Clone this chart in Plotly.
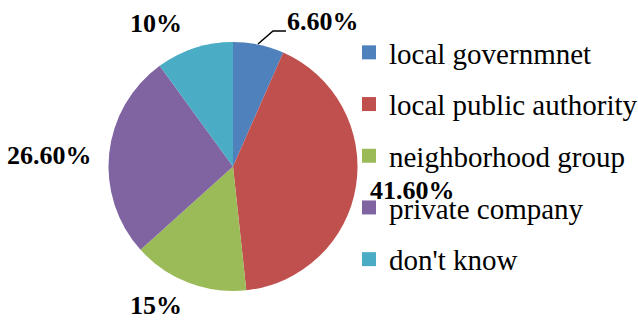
import plotly.graph_objects as go

categories = ["local governmnet", "local public authority", "neighborhood group",
              "private company", "don't know"]
values = [6.6, 41.6, 15, 26.6, 10]
value_labels = ["6.60%", "41.60%", "15%", "26.60%", "10%"]
colors = ["#4F81BD", "#C0504D", "#9BBB59", "#8064A2", "#4BACC6"]

W, H = 638, 320
cx, cy, r = 233, 166.5, 124.5
SERIF = "Liberation Serif, Times New Roman, serif"

fig = go.Figure()
fig.add_trace(go.Pie(
    labels=categories, values=values, sort=False, direction="clockwise",
    rotation=0, textinfo="none", hoverinfo="label+percent",
    marker=dict(colors=colors, line=dict(width=0)),
    showlegend=False,
    domain=dict(x=[(cx - r) / W, (cx + r) / W], y=[(H - cy - r) / H, (H - cy + r) / H]),
))

# legend entries (dummy traces so each row can be spaced like the original)
for i, (c, col) in enumerate(zip(categories, colors)):
    fig.add_trace(go.Scatter(
        x=[None], y=[None], mode="markers", name=c,
        marker=dict(symbol="square", size=14, color=col),
        legendgroup=f"g{i}", showlegend=True, hoverinfo="skip",
    ))

# data labels (paper coords for each label centre)
label_pos = [(323, 22), (412, 190), (156, 305), (49, 155), (156, 24)]
for txt, (px, py) in zip(value_labels, label_pos):
    fig.add_annotation(x=px / W, y=1 - py / H, xref="paper", yref="paper",
                       text=f"<b>{txt}</b>", showarrow=False,
                       xanchor="center", yanchor="middle",
                       font=dict(family=SERIF, size=26, color="black"))

# leader line for the small slice
fig.add_shape(type="path", xref="paper", yref="paper",
              path=f"M {258/W} {1-44/H} L {273/W} {1-31/H} L {286/W} {1-31/H}",
              line=dict(color="black", width=1.5))

fig.update_layout(
    width=W, height=H, margin=dict(l=0, r=0, t=0, b=0, autoexpand=False),
    paper_bgcolor="white", plot_bgcolor="white",
    xaxis=dict(visible=False), yaxis=dict(visible=False),
    font=dict(family=SERIF, color="black"),
    legend=dict(x=349 / W, y=1 - 27 / H, xanchor="left", yanchor="top",
                font=dict(family=SERIF, size=29, color="black"),
                tracegroupgap=11, itemwidth=30, bgcolor="rgba(0,0,0,0)"),
)

fig.write_html("out.html")
